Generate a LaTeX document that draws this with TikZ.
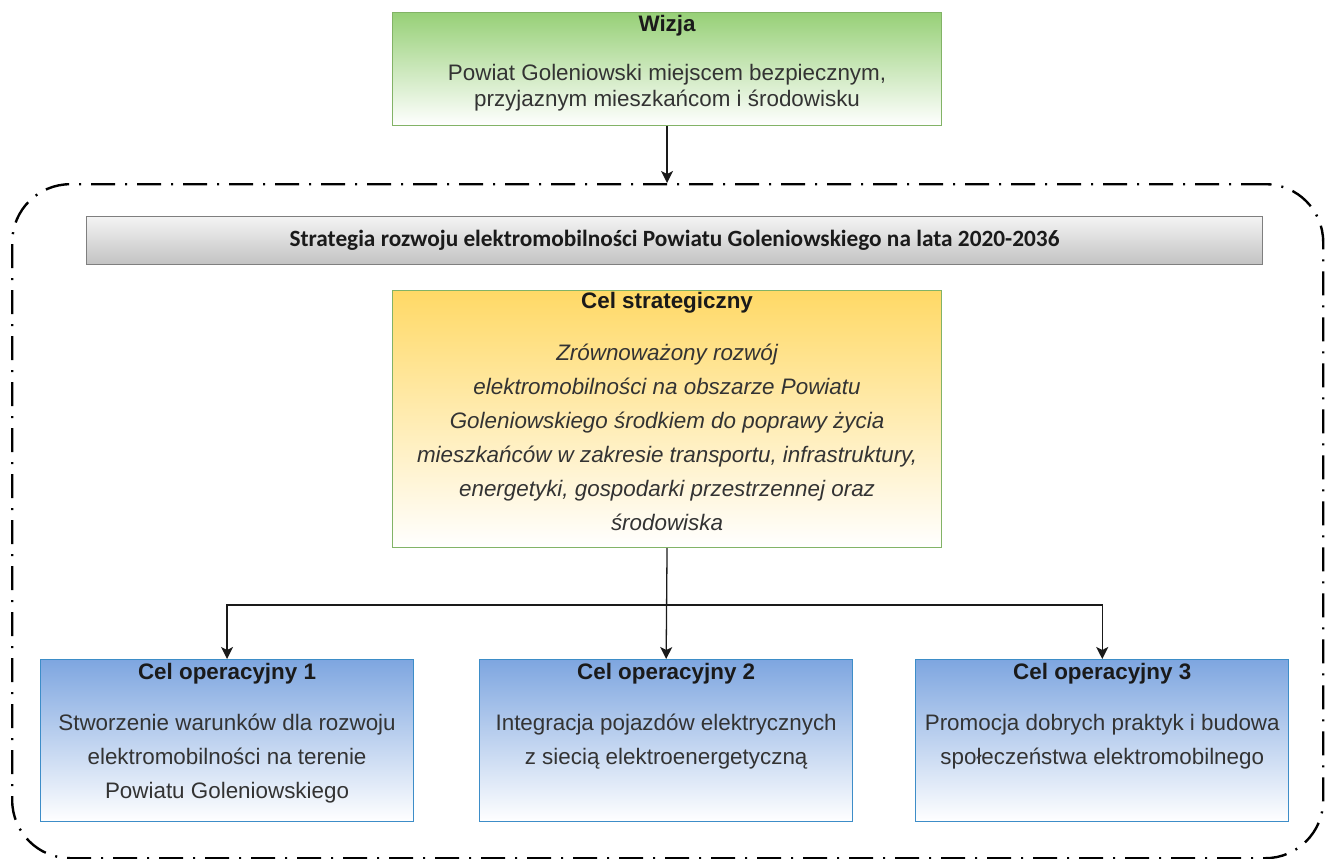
\documentclass[tikz,border=0pt]{standalone}
\usepackage{fontspec}
\setmainfont{Liberation Sans}
\newfontfamily\barfont{Carlito}
\usetikzlibrary{arrows.meta,calc,positioning}
\definecolor{VisionGreen}{HTML}{97D077}
\definecolor{VisionLine}{HTML}{82B366}
\definecolor{GoalGold}{HTML}{FFD966}
\definecolor{OpBlue}{HTML}{7EA6E0}
\definecolor{OpLine}{HTML}{3D8DC8}
\definecolor{BarTop}{HTML}{F4F4F4}
\definecolor{BarBottom}{HTML}{C2C2C2}
\definecolor{BarLine}{HTML}{7F7F7F}
\definecolor{BodyText}{HTML}{333333}
\definecolor{Ink}{HTML}{1A1A1A}

\begin{document}
\begin{tikzpicture}[x=1pt,y=-1pt,
    box/.style={draw=#1,line width=1.1pt,inner sep=0pt,anchor=north west},
    title/.style={anchor=base,inner sep=0pt,text=Ink,font=\fontsize{22.4}{25}\selectfont\bfseries},
    body/.style={anchor=base,inner sep=0pt,align=center,text=BodyText,font=\fontsize{22.4}{#1}\selectfont},
    slant/.style={body=#1,font=\fontsize{22.4}{#1}\selectfont\itshape},
    link/.style={draw=Ink,line width=1.3pt,-{Stealth[length=12pt,width=12pt,inset=3pt]}}]
  \useasboundingbox (0,0) rectangle (1330,859);
  \node[box=black,line width=2.4pt,rounded corners=58pt,dash pattern=on 24pt off 10pt on 2pt off 10pt,
    minimum width=1311pt,minimum height=674pt] (ramka) at (11,183) {};
  \node[box=VisionLine,top color=VisionGreen,bottom color=white,
    minimum width=549pt,minimum height=113pt] (wizja) at (392,12) {};
  \node[title] (wizjaT) at ($(wizja.north)+(0,20)$) {Wizja};
  % base = last line
  \node[body=25] (wizjaB) at ($(wizja.north)+(0,94)$) {Powiat Goleniowski miejscem bezpiecznym,\\przyjaznym mieszkańcom i środowisku};
  \node[box=BarLine,line width=0.9pt,top color=BarTop,bottom color=BarBottom,
    minimum width=1176pt,minimum height=48pt] (pasek) at (86,216) {};
  \node[inner sep=0pt,text=Ink,font=\barfont\fontsize{23.3}{26}\selectfont\bfseries] (paskT) at (pasek.center)
    {Strategia rozwoju elektromobilności Powiatu Goleniowskiego na lata 2020-2036};
  \node[box=VisionLine,top color=GoalGold,bottom color=white,
    minimum width=549pt,minimum height=257pt] (cel) at (392,290) {};
  \node[title] (celT) at ($(cel.north)+(0,18)$) {Cel strategiczny};
  \node[slant=34] (celB) at ($(cel.north)+(0,240)$) {Zrównoważony rozwój\\elektromobilności na obszarze Powiatu\\Goleniowskiego środkiem do poprawy życia\\mieszkańców w zakresie transportu, infrastruktury,\\energetyki, gospodarki przestrzennej oraz\\środowiska};
  \node[box=OpLine,top color=OpBlue,bottom color=white,
    minimum width=373pt,minimum height=162pt] (op1) at (40,659) {};
  \node[box=OpLine,top color=OpBlue,bottom color=white,
    minimum width=373pt,minimum height=162pt,right=65pt of op1.north east,anchor=north west] (op2) {};
  \node[box=OpLine,top color=OpBlue,bottom color=white,
    minimum width=373pt,minimum height=162pt,right=62pt of op2.north east,anchor=north west] (op3) {};
  \node[title] (op1T) at ($(op1.north)+(0,20)$) {Cel operacyjny 1};
  \node[body=34] (op1B) at ($(op1.north)+(0,139)$) {Stworzenie warunków dla rozwoju\\elektromobilności na terenie\\Powiatu Goleniowskiego};
  \node[title] (op2T) at ($(op2.north)+(0,20)$) {Cel operacyjny 2};
  \node[body=34] (op2B) at ($(op2.north)+(0,105)$) {Integracja pojazdów elektrycznych\\z siecią elektroenergetyczną};
  \node[title] (op3T) at ($(op3.north)+(0,20)$) {Cel operacyjny 3};
  \node[body=34] (op3B) at ($(op3.north)+(0,105)$) {Promocja dobrych praktyk i budowa\\społeczeństwa elektromobilnego};
  \coordinate (rozgal) at ($(cel.south)+(0,57)$);
  \draw[link] (wizja.south) -- (wizja.south |- ramka.north);
  \draw[link] (cel.south) -- (op2.north);
  \draw[link] (rozgal) -| (op1.north);
  \draw[link] (rozgal) -| (op3.north);
\end{tikzpicture}
\end{document}
